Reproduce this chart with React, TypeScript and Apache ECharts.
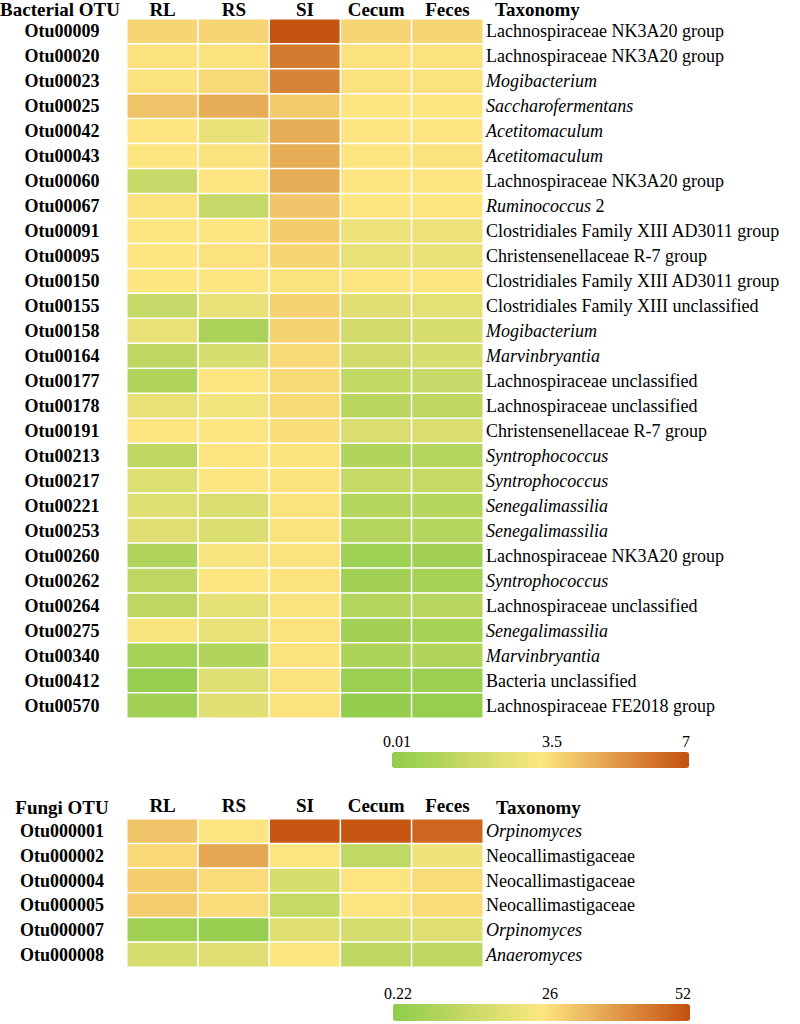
import React, { useEffect, useRef } from 'react';
import * as echarts from 'echarts';

const FONT = 'Liberation Serif, Times New Roman, serif';

const sites = ['RL', 'RS', 'SI', 'Cecum', 'Feces'];

const bacteriaOtus = [
  'Otu00009', 'Otu00020', 'Otu00023', 'Otu00025', 'Otu00042', 'Otu00043', 'Otu00060',
  'Otu00067', 'Otu00091', 'Otu00095', 'Otu00150', 'Otu00155', 'Otu00158', 'Otu00164',
  'Otu00177', 'Otu00178', 'Otu00191', 'Otu00213', 'Otu00217', 'Otu00221', 'Otu00253',
  'Otu00260', 'Otu00262', 'Otu00264', 'Otu00275', 'Otu00340', 'Otu00412', 'Otu00570',
];

const bacteriaTaxa = [
  'Lachnospiraceae NK3A20 group', 'Lachnospiraceae NK3A20 group', 'Mogibacterium',
  'Saccharofermentans', 'Acetitomaculum', 'Acetitomaculum', 'Lachnospiraceae NK3A20 group',
  'Ruminococcus 2', 'Clostridiales Family XIII AD3011 group', 'Christensenellaceae R-7 group',
  'Clostridiales Family XIII AD3011 group', 'Clostridiales Family XIII unclassified',
  'Mogibacterium', 'Marvinbryantia', 'Lachnospiraceae unclassified',
  'Lachnospiraceae unclassified', 'Christensenellaceae R-7 group', 'Syntrophococcus',
  'Syntrophococcus', 'Senegalimassilia', 'Senegalimassilia', 'Lachnospiraceae NK3A20 group',
  'Syntrophococcus', 'Lachnospiraceae unclassified', 'Senegalimassilia', 'Marvinbryantia',
  'Bacteria unclassified', 'Lachnospiraceae FE2018 group',
];

const bacteriaTaxaItalic = [
  false, false, true, true, true, true, false, true, false, false, false, false, true, true,
  false, false, false, true, true, true, true, false, true, false, true, true, false, false,
];

const bacteriaRL = [3.9, 3.6, 3.6, 4.3, 3.5, 3.5, 1.8, 3.6, 3.5, 3.5, 3.5, 1.8, 2.8, 1.5, 1.1, 2.8, 3.5, 1.5, 2.5, 2.5, 2.6, 1.1, 1.5, 1.5, 3.3, 0.7, 0.3, 0.6];
const bacteriaRS = [3.9, 3.6, 3.8, 4.8, 2.9, 3.6, 3.5, 1.8, 3.5, 3.6, 3.5, 2.9, 0.9, 2.3, 3.5, 3.2, 3.5, 3.5, 3.5, 2.4, 2.4, 3.3, 3.5, 2.7, 2.9, 1.1, 2.5, 2.6];
const bacteriaSI = [6.9, 6.0, 5.8, 4.1, 4.8, 4.8, 4.8, 4.3, 4.1, 3.9, 3.6, 4.0, 4.0, 3.8, 3.8, 3.8, 3.7, 3.6, 3.6, 3.6, 3.6, 3.6, 3.6, 3.6, 3.6, 3.6, 3.6, 3.6];
const bacteriaCecum = [3.9, 3.6, 3.6, 3.5, 3.5, 3.5, 3.5, 3.5, 3.0, 2.8, 3.4, 2.6, 2.1, 2.1, 1.6, 1.4, 2.4, 1.1, 1.7, 1.2, 1.2, 0.5, 0.6, 1.2, 0.6, 1.0, 0.4, 0.2];
const bacteriaFeces = [3.9, 3.6, 3.6, 3.5, 3.5, 3.6, 3.5, 3.5, 3.0, 2.9, 3.4, 2.7, 2.3, 2.3, 1.8, 1.5, 2.4, 1.2, 1.7, 1.2, 1.2, 0.6, 0.7, 1.3, 0.7, 1.1, 0.4, 0.3];

const fungiOtus = ['Otu000001', 'Otu000002', 'Otu000004', 'Otu000005', 'Otu000007', 'Otu000008'];
const fungiTaxa = ['Orpinomyces', 'Neocallimastigaceae', 'Neocallimastigaceae', 'Neocallimastigaceae', 'Orpinomyces', 'Anaeromyces'];
const fungiTaxaItalic = [true, false, false, false, true, true];

const fungiRL = [32, 28.5, 30.5, 30.5, 4, 17];
const fungiRS = [26.5, 37, 28, 28, 2, 19];
const fungiSI = [51, 26.5, 17, 13, 19, 26];
const fungiCecum = [51, 12, 26.5, 26.5, 17, 11];
const fungiFeces = [48, 23, 28, 28, 19, 11];

const bacteriaScaleLabels = ['0.01', '3.5', '7'];
const fungiScaleLabels = ['0.22', '26', '52'];

const colorRange = ['#8fcc4c', '#fde682', '#c4500e'];

function buildData(cols: number[][]) {
  const d: [number, number, number][] = [];
  cols.forEach((col, c) => col.forEach((v, r) => d.push([c, r, v])));
  return d;
}

function taxonLabel(name: string, italic: boolean) {
  if (!italic) return `{n|${name}}`;
  const sp = name.indexOf(' ');
  if (sp < 0) return `{i|${name}}`;
  return `{i|${name.slice(0, sp)}}{n|${name.slice(sp)}}`;
}

const richStyles = {
  i: { fontFamily: FONT, fontSize: 18, fontStyle: 'italic', color: '#000' },
  n: { fontFamily: FONT, fontSize: 18, color: '#000' },
};

const hidden = { show: false };

function headerAxis(gridIndex: number, margin: number) {
  return {
    gridIndex,
    type: 'category',
    data: sites,
    position: 'top',
    axisLine: hidden,
    axisTick: hidden,
    splitLine: hidden,
    axisLabel: { margin, fontFamily: FONT, fontSize: 19, fontWeight: 'bold', color: '#000', interval: 0 },
  };
}

function otuAxis(gridIndex: number, data: string[]) {
  return {
    gridIndex,
    type: 'category',
    data,
    inverse: true,
    axisLine: hidden,
    axisTick: hidden,
    splitLine: hidden,
    axisLabel: { margin: 65, align: 'center', fontFamily: FONT, fontSize: 18, fontWeight: 'bold', color: '#000', interval: 0 },
  };
}

function taxaAxis(gridIndex: number, data: string[], taxa: string[], italic: boolean[]) {
  return {
    gridIndex,
    type: 'category',
    data,
    inverse: true,
    position: 'right',
    axisLine: hidden,
    axisTick: hidden,
    splitLine: hidden,
    axisLabel: {
      margin: 3,
      align: 'left',
      interval: 0,
      formatter: (_v: string, i: number) => taxonLabel(taxa[i], italic[i]),
      rich: richStyles,
    },
  };
}

function text(t: string, x: number, y: number, align: string, bold: boolean, size: number) {
  return {
    type: 'text',
    x,
    y,
    style: {
      text: t,
      fontFamily: FONT,
      fontSize: size,
      fontWeight: bold ? 'bold' : 'normal',
      fill: '#000',
      textAlign: align,
      textVerticalAlign: 'middle',
    },
  };
}

export default function App() {
  const ref = useRef<HTMLDivElement>(null);

  useEffect(() => {
    if (!ref.current) return;
    const chart = echarts.init(ref.current, undefined, { renderer: 'svg' });
    const option = {
      animation: false,
      backgroundColor: '#ffffff',
      grid: [
        { left: 127, top: 18, width: 356, height: 700 },
        { left: 127, top: 819, width: 356, height: 148 },
      ],
      xAxis: [headerAxis(0, 0), headerAxis(1, 4)],
      yAxis: [
        otuAxis(0, bacteriaOtus),
        taxaAxis(0, bacteriaOtus, bacteriaTaxa, bacteriaTaxaItalic),
        otuAxis(1, fungiOtus),
        taxaAxis(1, fungiOtus, fungiTaxa, fungiTaxaItalic),
      ],
      visualMap: [
        {
          type: 'continuous',
          seriesIndex: 0,
          min: parseFloat(bacteriaScaleLabels[0]),
          max: parseFloat(bacteriaScaleLabels[2]),
          orient: 'horizontal',
          left: 392,
          top: 752,
          itemWidth: 16,
          itemHeight: 297,
          padding: 0,
          calculable: false,
          hoverLink: false,
          inRange: { color: colorRange },
        },
        {
          type: 'continuous',
          seriesIndex: 1,
          min: parseFloat(fungiScaleLabels[0]),
          max: parseFloat(fungiScaleLabels[2]),
          orient: 'horizontal',
          left: 393,
          top: 1004,
          itemWidth: 17,
          itemHeight: 297,
          padding: 0,
          calculable: false,
          hoverLink: false,
          inRange: { color: colorRange },
        },
      ],
      series: [
        {
          type: 'heatmap',
          xAxisIndex: 0,
          yAxisIndex: 0,
          data: buildData([bacteriaRL, bacteriaRS, bacteriaSI, bacteriaCecum, bacteriaFeces]),
          itemStyle: { borderColor: '#ffffff', borderWidth: 1.5 },
          emphasis: { disabled: true },
        },
        {
          type: 'heatmap',
          xAxisIndex: 1,
          yAxisIndex: 2,
          data: buildData([fungiRL, fungiRS, fungiSI, fungiCecum, fungiFeces]),
          itemStyle: { borderColor: '#ffffff', borderWidth: 1.5 },
          emphasis: { disabled: true },
        },
      ],
      graphic: [
        text('Bacterial OTU', 60, 9, 'center', true, 19),
        text('Taxonomy', 495, 9, 'left', true, 19),
        text('Fungi OTU', 62, 807, 'center', true, 19),
        text('Taxonomy', 496, 807, 'left', true, 19),
        text(bacteriaScaleLabels[0], 383, 741, 'left', false, 16),
        text(bacteriaScaleLabels[1], 552, 741, 'center', false, 16),
        text(bacteriaScaleLabels[2], 690, 741, 'right', false, 16),
        text(fungiScaleLabels[0], 384, 993, 'left', false, 16),
        text(fungiScaleLabels[1], 550, 993, 'center', false, 16),
        text(fungiScaleLabels[2], 691, 993, 'right', false, 16),
      ],
    };
    chart.setOption(option as any);
    return () => chart.dispose();
  }, []);

  return (
    <div
      ref={ref}
      style={{ position: 'absolute', left: 0, top: 0, width: 800, height: 1024, background: '#fff' }}
    />
  );
}
